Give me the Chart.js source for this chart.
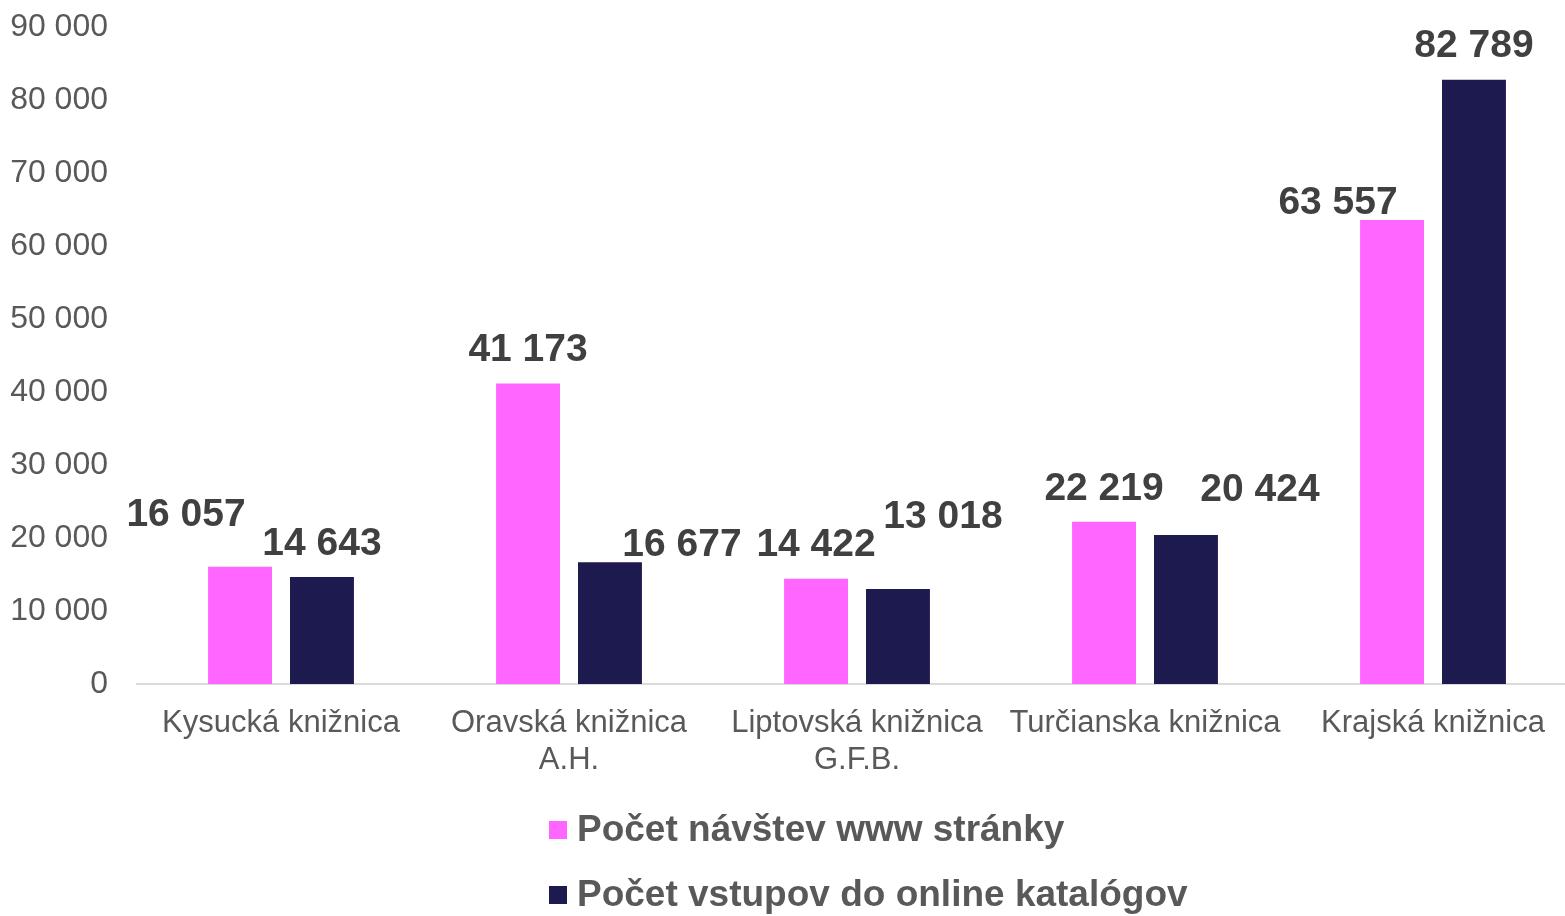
<!DOCTYPE html>
<html>
<head>
<meta charset="utf-8">
<script src="https://cdn.jsdelivr.net/npm/chart.js@4"></script>
<style>
html,body{margin:0;padding:0;background:#fff;overflow:hidden;}
#wrap{width:1565px;height:916px;position:relative;overflow:hidden;}
</style>
</head>
<body>
<div id="wrap"><canvas id="c" width="1577" height="916"></canvas></div>
<script>
const categories = [
  'Kysucká knižnica',
  ['Oravská knižnica', 'A.H.'],
  ['Liptovská knižnica', 'G.F.B.'],
  'Turčianska knižnica',
  'Krajská knižnica'
];
const seriesNames = ['Počet návštev www stránky', 'Počet vstupov do online katalógov'];
const visits = [16057, 41173, 14422, 22219, 63557];
const catalog = [14643, 16677, 13018, 20424, 82789];
const yTicks = [0, 10000, 20000, 30000, 40000, 50000, 60000, 70000, 80000, 90000];

const colors = ['#FF66FF', '#1C1A4E'];
// label nudges (px) to mirror the reference label placement
const labelNudges = [
  [[-54, -19], [0, 0], [0, 0], [0, 0], [-54, 16]],
  [[0, 0], [72, 16], [45, -39], [74, -12], [0, 0]]
];

const FONT = '"Liberation Sans", Arial, sans-serif';
const fmt = v => String(v).replace(/\B(?=(\d{3})+(?!\d))/g, ' ');

const dataLabels = {
  id: 'dataLabels',
  afterDatasetsDraw(chart) {
    const ctx = chart.ctx;
    ctx.save();
    ctx.font = 'bold 39px ' + FONT;
    ctx.fillStyle = '#404040';
    ctx.textAlign = 'center';
    ctx.textBaseline = 'middle';
    chart.data.datasets.forEach((ds, di) => {
      const meta = chart.getDatasetMeta(di);
      meta.data.forEach((bar, i) => {
        const n = labelNudges[di][i];
        ctx.fillText(fmt(ds.data[i]), bar.x + n[0], bar.y - 33 + n[1]);
      });
    });
    ctx.restore();
  }
};

const customLegend = {
  id: 'customLegend',
  afterDraw(chart) {
    const ctx = chart.ctx;
    ctx.save();
    ctx.font = 'bold 37px ' + FONT;
    ctx.textBaseline = 'middle';
    ctx.textAlign = 'left';
    const rows = [830, 895];
    chart.data.datasets.forEach((ds, i) => {
      const y = rows[i];
      ctx.fillStyle = ds.backgroundColor;
      ctx.fillRect(549, y - 9, 18, 18);
      ctx.fillStyle = '#595959';
      ctx.fillText(ds.label, 577, y + 1);
    });
    ctx.restore();
  }
};

new Chart(document.getElementById('c'), {
  type: 'bar',
  data: {
    labels: categories,
    datasets: [
      { label: seriesNames[0], data: visits, backgroundColor: colors[0] },
      { label: seriesNames[1], data: catalog, backgroundColor: colors[1] }
    ]
  },
  options: {
    responsive: false,
    animation: false,
    devicePixelRatio: 1,
    layout: { padding: { top: 27, right: 0, left: 0, bottom: 132 } },
    datasets: { bar: { categoryPercentage: 0.569, barPercentage: 0.78 } },
    plugins: {
      legend: { display: false },
      tooltip: { enabled: false }
    },
    scales: {
      x: {
        afterFit(scale) { scale.paddingLeft = 0; scale.paddingRight = 0; scale.height = 100; },
        grid: { display: false, drawTicks: false },
        border: { display: true, color: '#D9D9D9', width: 2 },
        ticks: { color: '#595959', font: { family: FONT, size: 31 }, padding: 21, maxRotation: 0, autoSkip: false }
      },
      y: {
        min: 0, max: 90000,
        afterBuildTicks(axis) { axis.ticks = yTicks.map(v => ({ value: v })); },
        afterFit(scale) { scale.paddingTop = 0; scale.paddingBottom = 0; scale.width = 137; },
        grid: { display: false, drawTicks: false },
        border: { display: false },
        ticks: { color: '#595959', font: { family: FONT, size: 32 }, padding: 29, callback: v => fmt(v) }
      }
    }
  },
  plugins: [dataLabels, customLegend]
});
</script>
</body>
</html>
